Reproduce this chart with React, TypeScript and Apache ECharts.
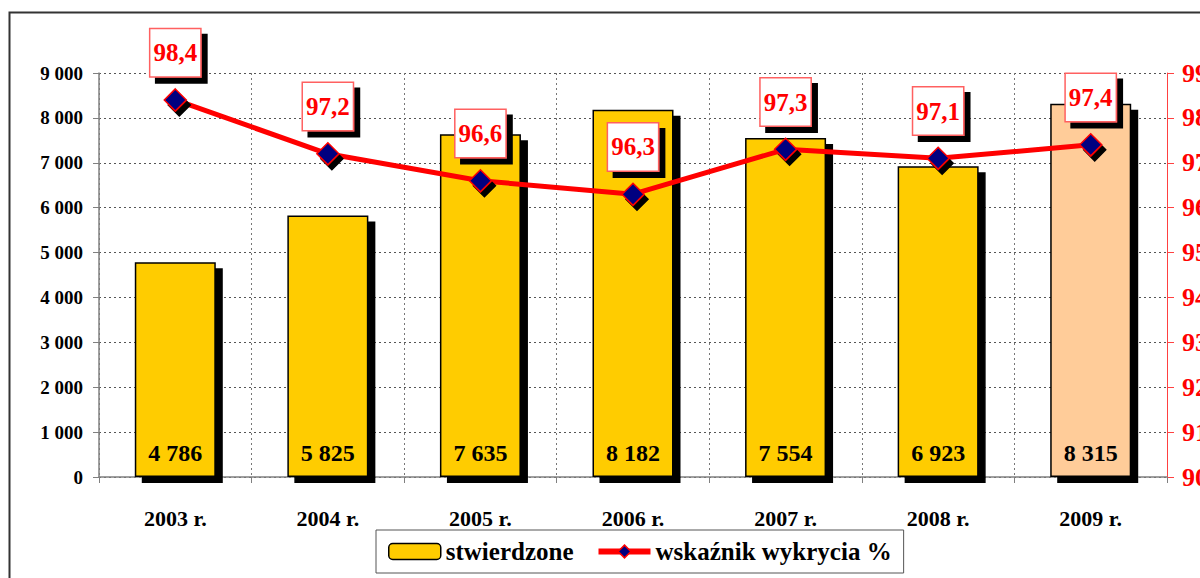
import React, { useEffect, useRef } from "react";
import * as echarts from "echarts";

const categories = ["2003 r.", "2004 r.", "2005 r.", "2006 r.", "2007 r.", "2008 r.", "2009 r."];
const stwierdzone = [4786, 5825, 7635, 8182, 7554, 6923, 8315];
const wskaznik = [98.4, 97.2, 96.6, 96.3, 97.3, 97.1, 97.4];
const leftTicks = { min: 0, max: 9000, interval: 1000 };
const rightTicks = { min: 90, max: 99, interval: 1 };

const FONT = "Liberation Serif";

function fmtThousands(v: number): string {
  const s = String(Math.round(v));
  return s.replace(/\B(?=(\d{3})+(?!\d))/g, " ");
}

export default function App() {
  const ref = useRef<HTMLDivElement>(null);
  useEffect(() => {
    if (!ref.current) return;
    const chart = echarts.init(ref.current, null, { renderer: "svg" });
    const barData = stwierdzone.map((v, i) => ({
      value: v,
      itemStyle: i === stwierdzone.length - 1 ? { color: "#FFCC99" } : undefined,
    }));
    chart.setOption({
      animation: false,
      backgroundColor: "#ffffff",
      textStyle: { fontFamily: FONT },
      graphic: [
        {
          type: "rect",
          shape: { x: 9.5, y: 12.5, width: 1300, height: 700 },
          style: { fill: "none", stroke: "#333333", lineWidth: 2 },
          silent: true,
          z: -10,
        },
      ],
      grid: {
        left: 99,
        right: 33,
        top: 73,
        bottom: 101,
        containLabel: false,
        outerBoundsMode: "none",
      },
      legend: {
        left: 376,
        top: 530,
        orient: "horizontal",
        backgroundColor: "#ffffff",
        borderColor: "#555555",
        borderWidth: 1,
        padding: [9, 12, 9, 12],
        itemGap: 22,
        itemWidth: 52,
        itemHeight: 16,
        textStyle: { fontFamily: FONT, fontWeight: "bold", fontSize: 25, color: "#000" },
        data: [
          { name: "stwierdzone", itemStyle: { color: "#FFCC00", borderColor: "#000", borderWidth: 1.5 } },
          {
            name: "wskaźnik wykrycia %",
            lineStyle: { color: "#FF0000", width: 6 },
            itemStyle: { color: "#000080", borderColor: "#FF0000", borderWidth: 1.5 },
          },
        ],
      },
      xAxis: {
        type: "category",
        data: categories,
        boundaryGap: true,
        axisLine: { show: true, lineStyle: { color: "#808080", width: 1.5 } },
        axisTick: { show: true, length: 6, lineStyle: { color: "#808080" }, alignWithLabel: false },
        axisLabel: {
          margin: 30,
          fontFamily: FONT,
          fontWeight: "bold",
          fontSize: 22,
          color: "#000",
        },
        splitLine: { show: true, lineStyle: { color: "#777", type: [2, 3], width: 1 } },
      },
      yAxis: [
        {
          type: "value",
          min: leftTicks.min,
          max: leftTicks.max,
          interval: leftTicks.interval,
          position: "left",
          axisLine: { show: true, lineStyle: { color: "#808080", width: 1.5 } },
          axisTick: { show: true, length: 6, lineStyle: { color: "#808080" } },
          axisLabel: {
            margin: 16,
            fontFamily: FONT,
            fontWeight: "bold",
            fontSize: 19,
            color: "#000",
            formatter: (v: number) => fmtThousands(v),
          },
          splitLine: { show: true, lineStyle: { color: "#555", type: [2, 3], width: 1 } },
        },
        {
          type: "value",
          min: rightTicks.min,
          max: rightTicks.max,
          interval: rightTicks.interval,
          position: "right",
          axisLine: { show: true, lineStyle: { color: "#FF4040", width: 1 } },
          axisTick: { show: true, length: 7, inside: false, lineStyle: { color: "#FF4040" } },
          axisLabel: {
            margin: 15,
            fontFamily: FONT,
            fontWeight: "bold",
            fontSize: 26,
            color: "#FF0000",
          },
          splitLine: { show: false },
        },
      ],
      series: [
        {
          name: "stwierdzone",
          type: "bar",
          yAxisIndex: 0,
          barWidth: 81,
          data: barData,
          itemStyle: {
            color: "#FFCC00",
            borderColor: "#000",
            borderWidth: 1.5,
            shadowColor: "#000",
            shadowBlur: 0,
            shadowOffsetX: 7,
            shadowOffsetY: 6,
          },
          label: {
            show: true,
            position: "insideBottom",
            distance: 12,
            fontFamily: FONT,
            fontWeight: "bold",
            fontSize: 24,
            color: "#000",
            formatter: (p: any) => fmtThousands(p.value),
          },
          z: 2,
        },
        {
          name: "wskaźnik wykrycia %",
          type: "line",
          yAxisIndex: 1,
          data: wskaznik,
          lineStyle: { color: "#FF0000", width: 5 },
          itemStyle: {
            color: "#000080",
            borderColor: "#FF0000",
            borderWidth: 1.5,
            shadowColor: "#000",
            shadowBlur: 0,
            shadowOffsetX: 4,
            shadowOffsetY: 5,
          },
          symbol: "diamond",
          symbolSize: 22,
          label: {
            show: true,
            position: "top",
            distance: 12,
            fontFamily: FONT,
            fontWeight: "bold",
            fontSize: 25,
            color: "#FF0000",
            backgroundColor: "#ffffff",
            borderColor: "#FF6060",
            borderWidth: 1.5,
            padding: [11, 3, 11, 3],
            shadowColor: "#000",
            shadowBlur: 0,
            shadowOffsetX: 6,
            shadowOffsetY: 6,
            formatter: (p: any) => p.value.toFixed(1).replace(".", ","),
          },
          z: 5,
        },
      ],
    });
    return () => chart.dispose();
  }, []);
  return (
    <div
      ref={ref}
      style={{ position: "absolute", left: 0, top: 0, width: 1200, height: 578 }}
    />
  );
}
